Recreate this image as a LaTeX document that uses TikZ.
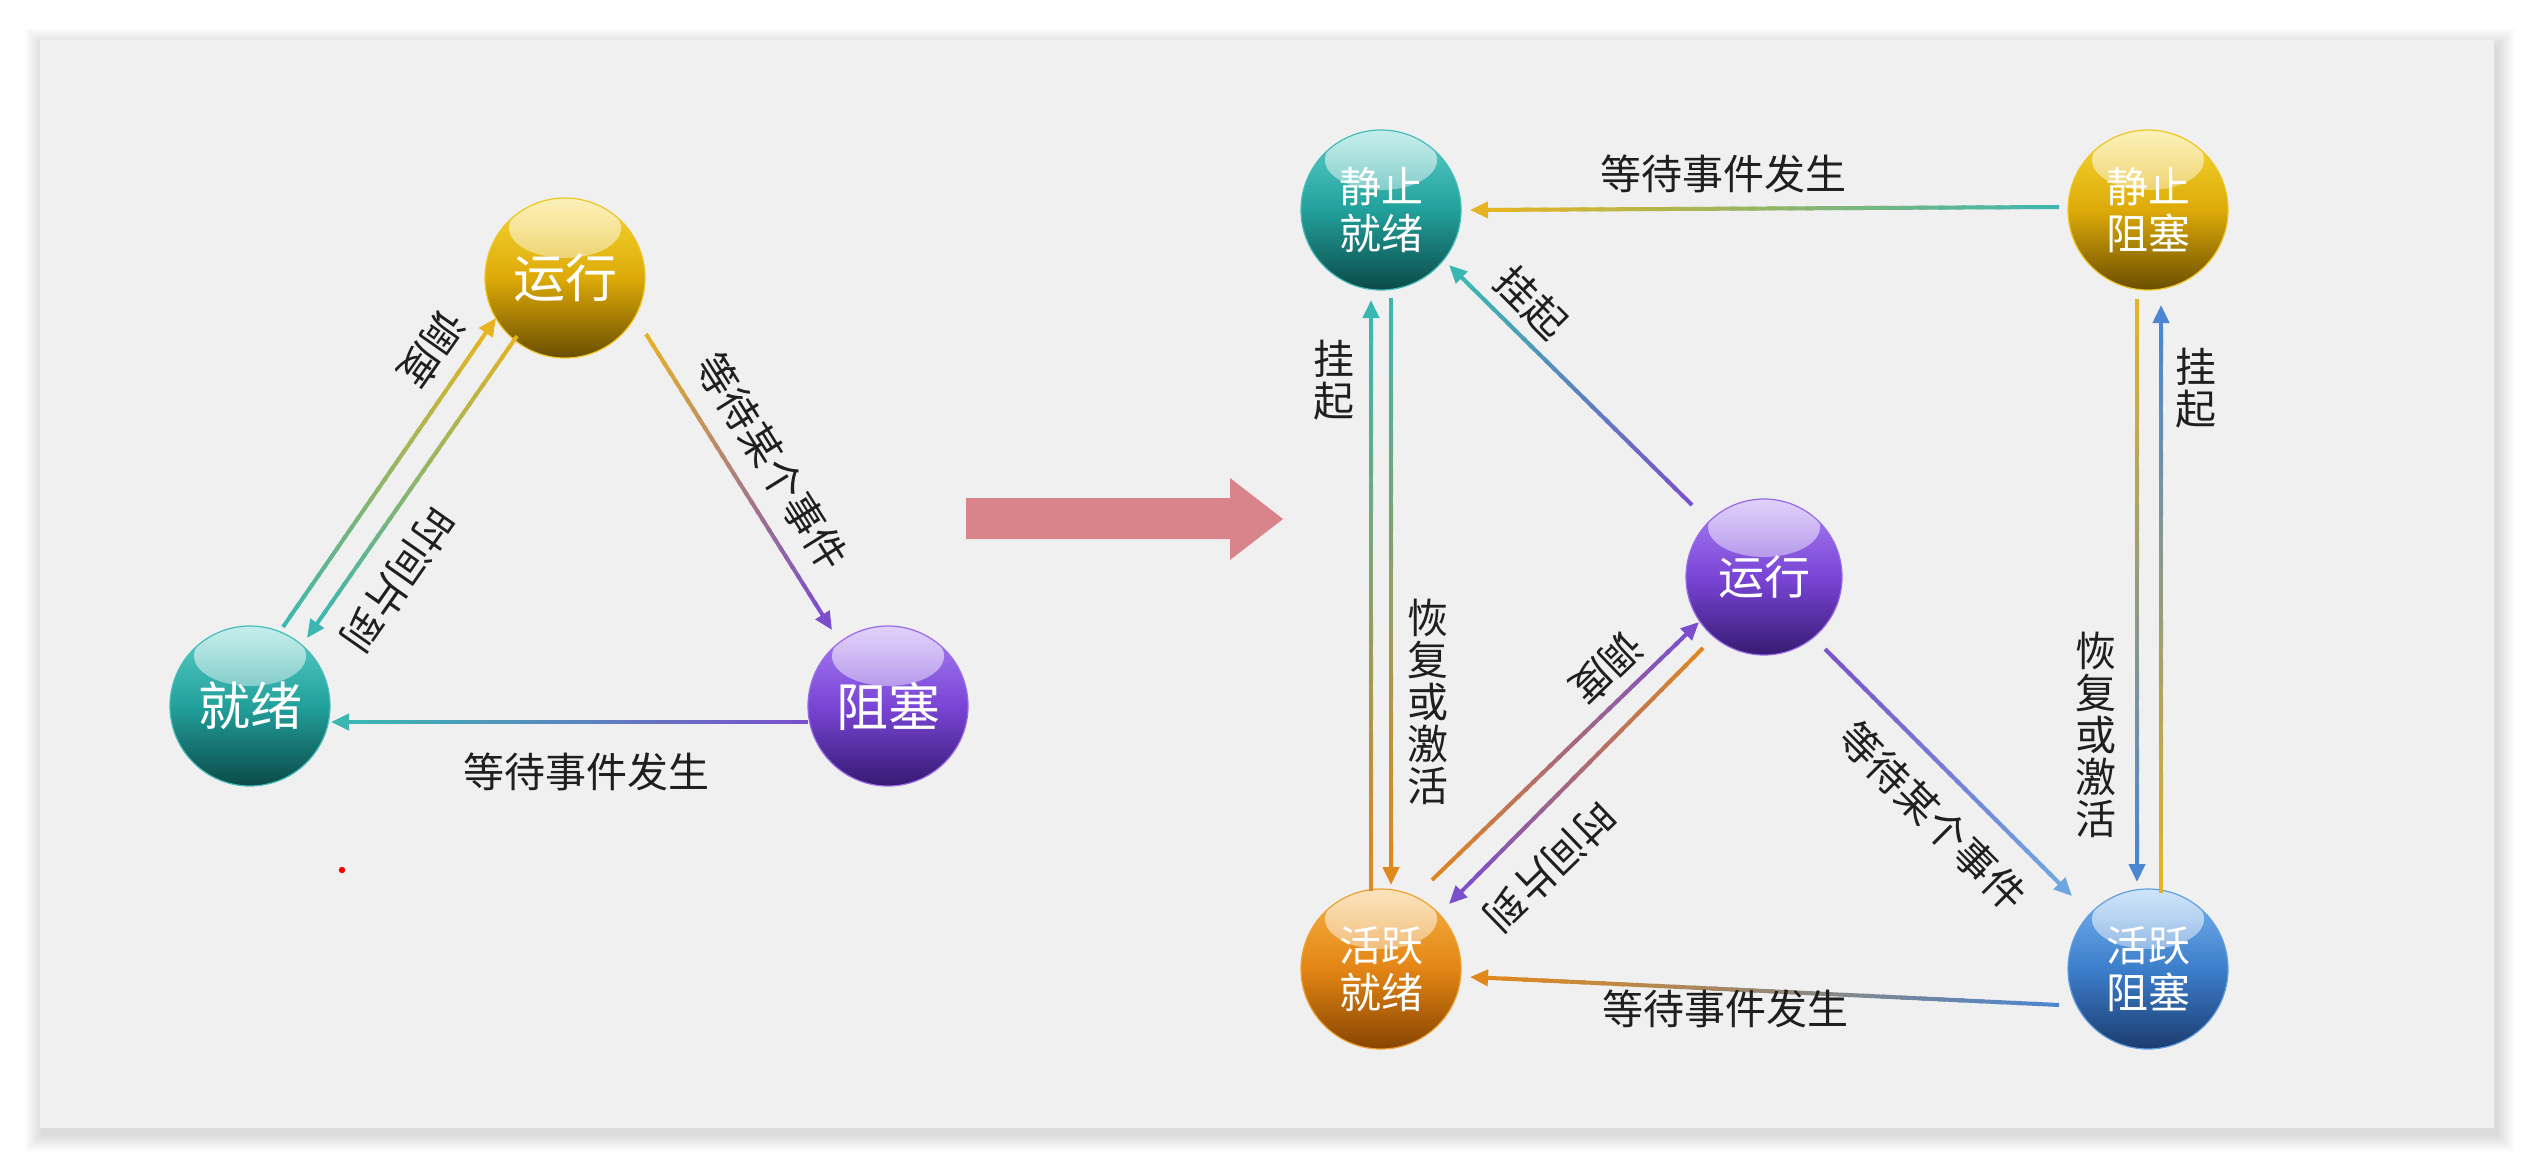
\documentclass[tikz,border=0pt]{standalone}
\usepackage{fontspec}
\newfontfamily\cjk{Noto Sans CJK SC}
\usetikzlibrary{calc,fadings,arrows.meta}

\definecolor{tealT}{HTML}{5CCFC9}
\definecolor{tealM}{HTML}{22A09B}
\definecolor{tealB}{HTML}{0B4A48}
\definecolor{yelT}{HTML}{F6D836}
\definecolor{yelM}{HTML}{DDAA08}
\definecolor{yelB}{HTML}{6A4E00}
\definecolor{purT}{HTML}{A881F2}
\definecolor{purM}{HTML}{7A45D6}
\definecolor{purB}{HTML}{361A72}
\definecolor{oraT}{HTML}{F5B245}
\definecolor{oraM}{HTML}{E38514}
\definecolor{oraB}{HTML}{874500}
\definecolor{bluT}{HTML}{78B4EE}
\definecolor{bluM}{HTML}{3C7ECB}
\definecolor{bluB}{HTML}{1C3C70}

\definecolor{lTeal}{HTML}{3BB7B1}
\definecolor{lYel}{HTML}{E6B422}
\definecolor{lPur}{HTML}{7B4FCC}
\definecolor{lOra}{HTML}{E0881C}
\definecolor{lBlu}{HTML}{4A86D2}
\definecolor{lBluL}{HTML}{6EA6E0}
\definecolor{panel}{HTML}{F0F0F0}
\definecolor{pinkA}{HTML}{D9838A}

\tikzfading[name=hlfade, top color=transparent!35, bottom color=transparent!100]

\newcommand\garrow[4]{%
  \coordinate (gh) at ($(#2)!11pt!(#1)$);
  \foreach \k in {0,...,29}{%
    \pgfmathsetmacro\ta{\k/30}%
    \pgfmathsetmacro\tb{min(1,(\k+1.4)/30)}%
    \pgfmathtruncatemacro\pc{100-100*(\k+0.5)/30}%
    \draw[line width=2pt, #3!\pc!#4] ($(#1)!\ta!(gh)$) -- ($(#1)!\tb!(gh)$);
  }
  \draw[line width=2pt, #4, -{Triangle[length=9pt,width=8pt]}] (gh) -- (#2);
}

\tikzset{
  ball/.style n args={3}{circle, minimum size=80pt, inner sep=0pt,
    top color=#1, bottom color=#3, middle color=#2,
    draw=#1!60!#2, line width=0.6pt, text=white, align=center,
    path picture={\fill[white, path fading=hlfade]
      ($(path picture bounding box.center)+(0,-50)$) ellipse [x radius=28pt, y radius=15pt];}},
  bigtxt/.style={font=\cjk\fontsize{26pt}{28pt}\selectfont},
  smtxt/.style={font=\cjk\fontsize{21pt}{23.5pt}\selectfont},
  lbl/.style={font=\cjk\fontsize{20.5pt}{21pt}\selectfont, text=black!88, inner sep=0pt, align=center},
}

\begin{document}
\begin{tikzpicture}[x=0.5pt,y=-0.5pt]
\useasboundingbox (0,0) rectangle (2532,1168);
\fill[white] (0,0) rectangle (2532,1168);
% panel shadow
\foreach \i in {1,...,18}{
  \fill[black, opacity=0.009] (40-\i+3,40-\i+6) rectangle (2494+\i+3,1128+\i+6);
}
\fill[panel] (40,40) rectangle (2494,1128);

% big pink arrow
\fill[pinkA] (966,498) -- (1230,498) -- (1230,478) -- (1283,519) -- (1230,560) -- (1230,539) -- (966,539) -- cycle;
% red dot
\fill[red] (342,870) circle (1.6pt);

% ---------- left triangle ----------
\node[ball={yelT}{yelM}{yelB}, bigtxt] (yx) at (565,278) {运行};
\node[ball={tealT}{tealM}{tealB}, bigtxt] (jx) at (250,706) {就绪};
\node[ball={purT}{purM}{purB}, bigtxt] (zs) at (888,706) {阻塞};

\coordinate (a1s) at ($(jx)+(33,-79)$);
\coordinate (a1e) at ($(yx)+(-69,40)$);
\coordinate (a2s) at ($(yx)+(-48,58)$);
\coordinate (a2e) at ($(jx)+(57,-68)$);
\coordinate (a3s) at ($(yx)+(81,56)$);
\coordinate (a3e) at ($(zs)+(-56,-76)$);
\coordinate (a4s) at ($(zs)+(-80,16)$);
\coordinate (a4e) at ($(jx)+(81,16)$);

\garrow{a1s}{a1e}{lTeal}{lYel}
\garrow{a2s}{a2e}{lYel}{lTeal}
\garrow{a3s}{a3e}{lYel}{lPur}
\garrow{a4s}{a4e}{lPur}{lTeal}

\node[lbl, rotate=235] (la1) at (432,349) {调度};
\node[lbl, rotate=235] (la2) at (398,580) {时间片到};
\node[lbl, rotate=-58] (la3) at (772,462) {等待某个事件};
\node[lbl] (la4) at (586,772) {等待事件发生};

% ---------- right diagram ----------
\node[ball={tealT}{tealM}{tealB}, smtxt] (SR) at (1381,210) {静止\\就绪};
\node[ball={yelT}{yelM}{yelB}, smtxt] (SB) at (2148,210) {静止\\阻塞};
\node[ball={purT}{purM}{purB}, font=\cjk\fontsize{23pt}{25pt}\selectfont, minimum size=78pt] (RR) at (1764,577) {运行};
\node[ball={oraT}{oraM}{oraB}, smtxt] (AR) at (1381,969) {活跃\\就绪};
\node[ball={bluT}{bluM}{bluB}, smtxt] (AB) at (2148,969) {活跃\\阻塞};

\coordinate (b1s) at ($(SB)+(-89,-3)$);
\coordinate (b1e) at ($(SR)+(89,0)$);
\coordinate (b2s) at ($(RR)+(-72,-72)$);
\coordinate (b2e) at ($(SR)+(68,55)$);
\coordinate (b3s) at ($(AR)+(-10,-78)$);
\coordinate (b3e) at ($(SR)+(-10,90)$);
\coordinate (b4s) at ($(SR)+(10,88)$);
\coordinate (b4e) at ($(AR)+(10,-84)$);
\coordinate (b5s) at ($(AR)+(51,-89)$);
\coordinate (b5e) at ($(RR)+(-65,45)$);
\coordinate (b6s) at ($(RR)+(-61,71)$);
\coordinate (b6e) at ($(AR)+(68,-65)$);
\coordinate (b7s) at ($(RR)+(61,72)$);
\coordinate (b7e) at ($(AB)+(-76,-73)$);
\coordinate (b8s) at ($(AB)+(-89,36)$);
\coordinate (b8e) at ($(AR)+(89,8)$);
\coordinate (b9s) at ($(SB)+(-11,89)$);
\coordinate (b9e) at ($(AB)+(-11,-87)$);
\coordinate (b10s) at ($(AB)+(13,-76)$);
\coordinate (b10e) at ($(SB)+(13,95)$);

\garrow{b1s}{b1e}{lTeal}{lYel}
\garrow{b2s}{b2e}{lPur}{lTeal}
\garrow{b3s}{b3e}{lOra}{lTeal}
\garrow{b4s}{b4e}{lTeal}{lOra}
\garrow{b5s}{b5e}{lOra}{lPur}
\garrow{b6s}{b6e}{lOra}{lPur}
\garrow{b7s}{b7e}{lPur}{lBluL}
\garrow{b8s}{b8e}{lBlu}{lOra}
\garrow{b9s}{b9e}{lYel}{lBlu}
\garrow{b10s}{b10e}{lYel}{lBlu}

\node[lbl] (lb1) at (1723,174) {等待事件发生};
\node[lbl, rotate=-45] (lb2) at (1531,303) {挂起};
\node[lbl] (lb3) at (1334,380) {挂\\起};
\node[lbl] (lb4) at (1428,702) {恢\\复\\或\\激\\活};
\node[lbl, rotate=224] (lb5) at (1607,668) {调度};
\node[lbl, rotate=224] (lb6) at (1550,867) {时间片到};
\node[lbl, rotate=-45] (lb7) at (1933,816) {等待某个事件};
\node[lbl] (lb8) at (1725,1009) {等待事件发生};
\node[lbl] (lb9) at (2096,735) {恢\\复\\或\\激\\活};
\node[lbl] (lb10) at (2196,388) {挂\\起};
\end{tikzpicture}
\end{document}
